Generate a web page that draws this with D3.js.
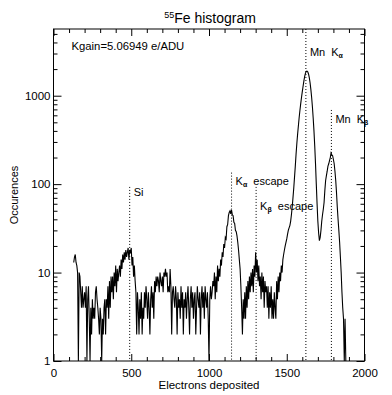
<!DOCTYPE html>
<html><head><meta charset="utf-8">
<script src="https://cdn.jsdelivr.net/npm/d3@7"></script>
<style>
body{margin:0;background:#fff}
text{font-family:"Liberation Sans",Arial,sans-serif;fill:#000}
</style>
</head><body>
<svg id="c" width="392" height="395"></svg>
<script>
// ---- data ----
const binStart = 130, binWidth = 5;   // electrons
const counts = [
 13,15,16,13,12,10,0,10,9,6,
 4,7,4,5,6,4,7,0,5,7,
 3,0,4,2,5,3,4,3,6,7,
 5,4,3,2,4,3,0,3,2,4,
 5,2,5,4,7,3,8,4,9,6,
 9,5,10,7,12,6,11,8,10,12,
 9,14,11,16,13,17,14,18,15,17,
 19,14,18,17,19,12,15,9,12,8,
 6,2,6,4,2,5,3,6,2,4,
 3,6,4,7,5,3,6,4,2,5,
 7,4,6,3,8,6,9,7,9,8,
 6,10,8,7,9,6,10,9,11,9,
 10,6,7,6,11,7,2,6,7,5,
 4,7,5,2,6,4,5,3,7,4,
 6,2,5,4,6,3,5,7,4,2,
 5,7,4,6,3,5,6,2,4,7,
 5,4,6,2,5,7,4,6,3,7,
 5,4,6,3,0,5,7,5,6,8,
 7,10,5,9,6,12,8,11,9,14,
 12,17,15,21,19,25,24,33,35,44,
 48,50,46,51,45,44,37,36,30,29,
 26,22,18,14,11,7,4,2,5,3,
 6,3,7,4,8,5,9,6,10,7,
 11,6,12,9,17,10,14,8,12,7,
 9,5,10,6,9,4,8,6,7,4,
 7,3,6,4,7,3,5,3,6,4,
 3,8,5,9,6,10,8,12,10,14,
 16,18,20,22,24,27,30,32,34,38,
 45,55,70,90,120,160,220,290,370,460,
 570,690,820,960,1110,1280,1460,1640,1790,1880,
 1900,1860,1760,1600,1400,1180,960,750,560,400,
 270,170,100,60,38,28,23,25,30,38,
 45,52,62,85,110,125,140,160,170,185,
 200,225,215,210,190,170,140,110,80,55,
 40,30,22,15,10,6,4,3,0,3,
 0
];
const xTicks = [0, 500, 1000, 1500, 2000];
const yTicks = [1, 10, 100, 1000];
const xDomain = [0, 2000];
const yDomain = [1, 5680];
const lineEnergies = [490, 1145, 1303, 1623, 1787];
const lineTops     = [93, 135, 93, 5680, 690];
const labelMain = ["Si", "K", "K", "Mn  K", "Mn  K"];
const labelSub  = ["", "α", "β", "α", "β"];
const labelPost = ["", "  escape", "  escape", "", ""];
const labelY    = [73, 98, 51, 2810, 490];
const titleSup = "55", titleText = "Fe histogram";
const kgainText = "Kgain=5.06949 e/ADU";
const xTitle = "Electrons deposited", yTitle = "Occurences";

// ---- layout ----
const svg = d3.select("#c");
const L = 53.5, R = 364.5, T = 29, B = 361;
const x = d3.scaleLinear().domain(xDomain).range([L, R]);
const y = d3.scaleLog().domain(yDomain).range([B, T]).clamp(true);

const data = counts.map((c, i) => ({e: binStart + i * binWidth, c}));

svg.append("clipPath").attr("id", "clip").append("rect")
  .attr("x", L).attr("y", T).attr("width", R - L).attr("height", B - T);

// dotted lines
svg.append("g").selectAll("line").data(lineEnergies).join("line")
  .attr("x1", d => x(d)).attr("x2", d => x(d))
  .attr("y1", (d, i) => y(lineTops[i])).attr("y2", B)
  .attr("stroke", "#000").attr("stroke-width", 1).attr("stroke-dasharray", "1,2");

// histogram line
const line = d3.line().x(d => x(d.e)).y(d => y(Math.max(d.c, 1)));
svg.append("path").datum(data).attr("d", line).attr("clip-path", "url(#clip)")
  .attr("fill", "none").attr("stroke", "#000").attr("stroke-width", 1.1)
  .attr("stroke-linejoin", "miter");

// axes
const xMinor = d3.range(100, 2000, 100).filter(v => v % 500 !== 0);
const yMinor = [];
[1, 10, 100, 1000].forEach(d => { for (let k = 2; k <= 9; k++) if (d * k <= yDomain[1]) yMinor.push(d * k); });

function styleAxis(g) { g.select(".domain").remove(); g.selectAll("line").attr("stroke", "#000"); g.selectAll("text").attr("font-family", "'Liberation Sans',Arial,sans-serif").attr("font-size", 11.5).attr("fill", "#000"); }

svg.append("g").attr("transform", `translate(0,${B})`)
  .call(d3.axisBottom(x).tickValues(xTicks).tickSizeInner(-7).tickSizeOuter(0).tickPadding(8).tickFormat(d3.format("d"))).call(styleAxis);
svg.append("g").attr("transform", `translate(0,${B})`)
  .call(d3.axisBottom(x).tickValues(xMinor).tickSizeInner(-4).tickSizeOuter(0).tickFormat("")).call(styleAxis);
svg.append("g").attr("transform", `translate(0,${T})`)
  .call(d3.axisTop(x).tickValues(xTicks).tickSizeInner(-7).tickSizeOuter(0).tickFormat("")).call(styleAxis);
svg.append("g").attr("transform", `translate(0,${T})`)
  .call(d3.axisTop(x).tickValues(xMinor).tickSizeInner(-4).tickSizeOuter(0).tickFormat("")).call(styleAxis);

svg.append("g").attr("transform", `translate(${L},0)`)
  .call(d3.axisLeft(y).tickValues(yTicks).tickSizeInner(-8).tickSizeOuter(0).tickPadding(3).tickFormat(d3.format("d"))).call(styleAxis);
svg.append("g").attr("transform", `translate(${L},0)`)
  .call(d3.axisLeft(y).tickValues(yMinor).tickSizeInner(-4).tickSizeOuter(0).tickFormat("")).call(styleAxis);
svg.append("g").attr("transform", `translate(${R},0)`)
  .call(d3.axisRight(y).tickValues(yTicks).tickSizeInner(-8).tickSizeOuter(0).tickFormat("")).call(styleAxis);
svg.append("g").attr("transform", `translate(${R},0)`)
  .call(d3.axisRight(y).tickValues(yMinor).tickSizeInner(-4).tickSizeOuter(0).tickFormat("")).call(styleAxis);

svg.append("rect").attr("x", L).attr("y", T).attr("width", R - L).attr("height", B - T)
  .attr("fill", "none").attr("stroke", "#000").attr("stroke-width", 1);

// labels
const lab = svg.append("g").selectAll("text").data(lineEnergies).join("text")
  .attr("x", d => x(d) + 4).attr("y", (d, i) => y(labelY[i]))
  .attr("font-size", 11).style("white-space", "pre");
lab.append("tspan").text((d, i) => labelMain[i]);
lab.append("tspan").attr("font-size", 7).attr("font-weight", "bold").attr("dy", 2).text((d, i) => labelSub[i]);
lab.append("tspan").attr("dy", -2).text((d, i) => labelPost[i]);

svg.append("text").attr("x", 71.5).attr("y", 49.5).attr("font-size", 11.3).text(kgainText);

const title = svg.append("text").attr("x", (L + R) / 2 + 1).attr("y", 23).attr("text-anchor", "middle").attr("font-size", 14);
title.append("tspan").attr("font-size", 9).attr("dy", -5).text(titleSup);
title.append("tspan").attr("dy", 5).text(titleText);

svg.append("text").attr("x", 209).attr("y", 389).attr("text-anchor", "middle").attr("font-size", 11.5).text(xTitle);
svg.append("text").attr("transform", "translate(18,195) rotate(-90)").attr("text-anchor", "middle").attr("font-size", 11).text(yTitle);
</script>
</body></html>
